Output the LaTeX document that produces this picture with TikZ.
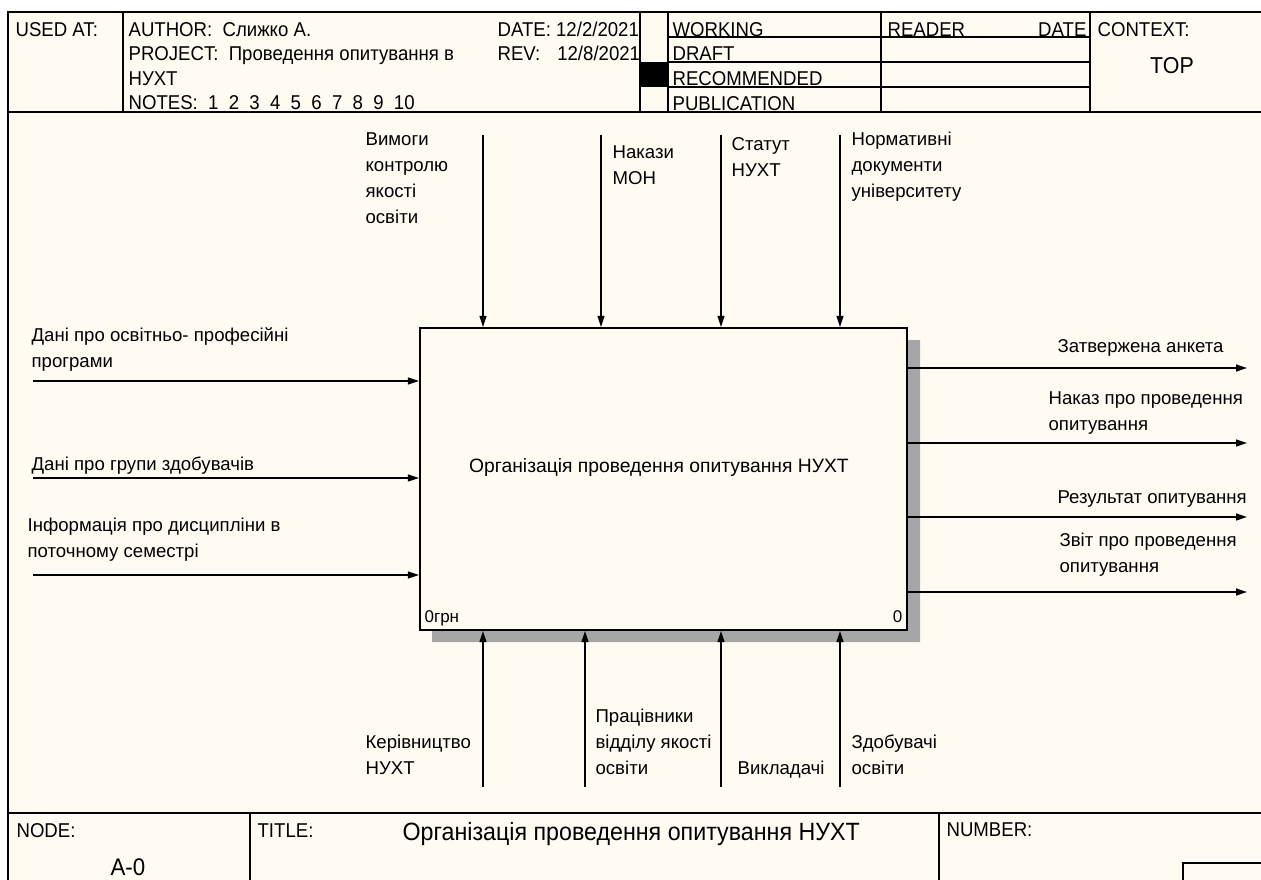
\documentclass[tikz,border=0pt]{standalone}
\usepackage{fontspec}
\setmainfont{Liberation Sans}
\newfontfamily\narrowfont{Liberation Sans}[FakeStretch=0.93]
\usetikzlibrary{arrows.meta}
\definecolor{paper}{RGB}{255,251,240}
\newcommand\ngap{\hspace{10.3pt}}
\begin{document}
\begin{tikzpicture}[x=1pt,y=-1pt,line width=1.2pt,
  lbl/.style={anchor=base west,inner sep=0pt,align=left,font=\fontsize{18.6}{25.7}\selectfont},
  hdr/.style={anchor=base west,inner sep=0pt,font=\narrowfont\fontsize{20}{24}\selectfont},
  arr/.style={draw,line width=1.2pt,-{Triangle[length=11pt,width=7pt]}}]
\useasboundingbox (0,0) rectangle (1261,880);
\fill[paper] (8,12) rectangle (1261,880);
\draw (8,880) -- (8,12) -- (1261,12);
\draw (8,112) -- (1261,112);
\foreach \x in {123,640,668,881,1090} \draw (\x,12) -- (\x,112);
\foreach \y in {37,62,87} \draw (668,\y) -- (1090,\y);
\fill (640,62) rectangle (668,87);
\draw (8,813) -- (1261,813);
\draw (250,813) -- (250,880);
\draw (939,813) -- (939,880);
\draw (1183,880) -- (1183,863) -- (1261,863);
\node[hdr] (usedat) at (15,36.5) {USED AT:};
\node[hdr] (author) at (128,36.5) {AUTHOR:\ \ Слижко А.};
\node[hdr] (project) at (128,61) {PROJECT:\ \ Проведення опитування в};
\node[hdr] (project2) at (128,85.5) {НУХТ};
\node[hdr] (notes) at (128,110) {NOTES:\ \ 1\ngap 2\ngap 3\ngap 4\ngap 5\ngap 6\ngap 7\ngap 8\ngap 9\ngap 10};
\node[hdr] (date) at (497,36.5) {DATE: 12/2/2021};
\node[hdr] (rev) at (497,61) {REV:\hspace{17pt}12/8/2021};
\node[hdr] (working) at (672,36.5) {WORKING};
\node[hdr] (draft) at (672,61) {DRAFT};
\node[hdr] (recommended) at (672,86) {RECOMMENDED};
\node[hdr] (publication) at (672,111) {PUBLICATION};
\node[hdr] (reader) at (887,36.5) {READER};
\node[hdr,anchor=base east] (readerdate) at (1087,36.5) {DATE};
\node[hdr] (context) at (1097,36.5) {CONTEXT:};
\node[hdr,anchor=base,font=\narrowfont\fontsize{23}{28}\selectfont] (top) at (1172,74) {TOP};
\node[hdr] (nodelbl) at (16,837) {NODE:};
\node[hdr,font=\narrowfont\fontsize{24}{30}\selectfont] (nodeno) at (110,875) {A-0};
\node[hdr] (titlelbl) at (257,837) {TITLE:};
\node[hdr,font=\narrowfont\fontsize{25}{30}\selectfont] (titletext) at (402,840) {Організація проведення опитування НУХТ};
\node[hdr] (numberlbl) at (946,836) {NUMBER:};
\fill[black!35] (907,340) rectangle (920,642) (432,630) rectangle (920,642);
\node[draw,fill=paper,line width=2.2pt,minimum width=487pt,minimum height=302pt,inner sep=0pt] (fn) at (663.5,479) {};
\node[anchor=base,inner sep=0pt,font=\fontsize{19.3}{24}\selectfont] (fntext) at (659,472) {Організація проведення опитування НУХТ};
\node[lbl,font=\fontsize{17}{20}\selectfont] (fnlbl) at (424,622) {0грн};
\node[lbl,anchor=base east,font=\fontsize{17}{20}\selectfont] (fnno) at (903,622) {0};
\coordinate (c1) at (483,135);
\coordinate (c2) at (601,135);
\coordinate (c3) at (721,135);
\coordinate (c4) at (840,135);
\coordinate (m1) at (483,787);
\coordinate (m2) at (585,787);
\coordinate (m3) at (721,787);
\coordinate (m4) at (840,787);
\coordinate (i1) at (33,381);
\coordinate (i2) at (33,478);
\coordinate (i3) at (33,575);
\coordinate (o1) at (1247,368);
\coordinate (o2) at (1247,443);
\coordinate (o3) at (1247,517);
\coordinate (o4) at (1247,592);
\foreach \n in {c1,c2,c3,c4} \path[arr] (\n) -- (\n |- fn.north);
\foreach \n in {m1,m2,m3,m4} \path[arr] (\n) -- (\n |- fn.south);
\foreach \n in {i1,i2,i3} \path[arr] (\n) -- (\n -| fn.west);
\foreach \n in {o1,o2,o3,o4} \path[arr] (\n -| fn.east) -- (\n);
\node[lbl] (c1text) at (365,223) {Вимоги\\контролю\\якості\\освіти};
\node[lbl] (c2text) at (612,184) {Накази\\МОН};
\node[lbl] (c3text) at (731,176) {Статут\\НУХТ};
\node[lbl] (c4text) at (851,197) {Нормативні\\документи\\університету};
\node[lbl] (i1text) at (31,367) {Дані про освітньо- професійні\\програми};
\node[lbl] (i2text) at (31,470) {Дані про групи здобувачів};
\node[lbl] (i3text) at (27,557) {Інформація про дисципліни в\\поточному семестрі};
\node[lbl] (o1text) at (1057,352) {Затвержена анкета};
\node[lbl] (o2text) at (1048,430) {Наказ про проведення\\опитування};
\node[lbl] (o3text) at (1057,503) {Результат опитування};
\node[lbl] (o4text) at (1059,572) {Звіт про проведення\\опитування};
\node[lbl] (m1text) at (365,774) {Керівництво\\НУХТ};
\node[lbl] (m2text) at (595,774) {Працівники\\відділу якості\\освіти};
\node[lbl] (m3text) at (737,774) {Викладачі};
\node[lbl] (m4text) at (851,774) {Здобувачі\\освіти};
\end{tikzpicture}
\end{document}
